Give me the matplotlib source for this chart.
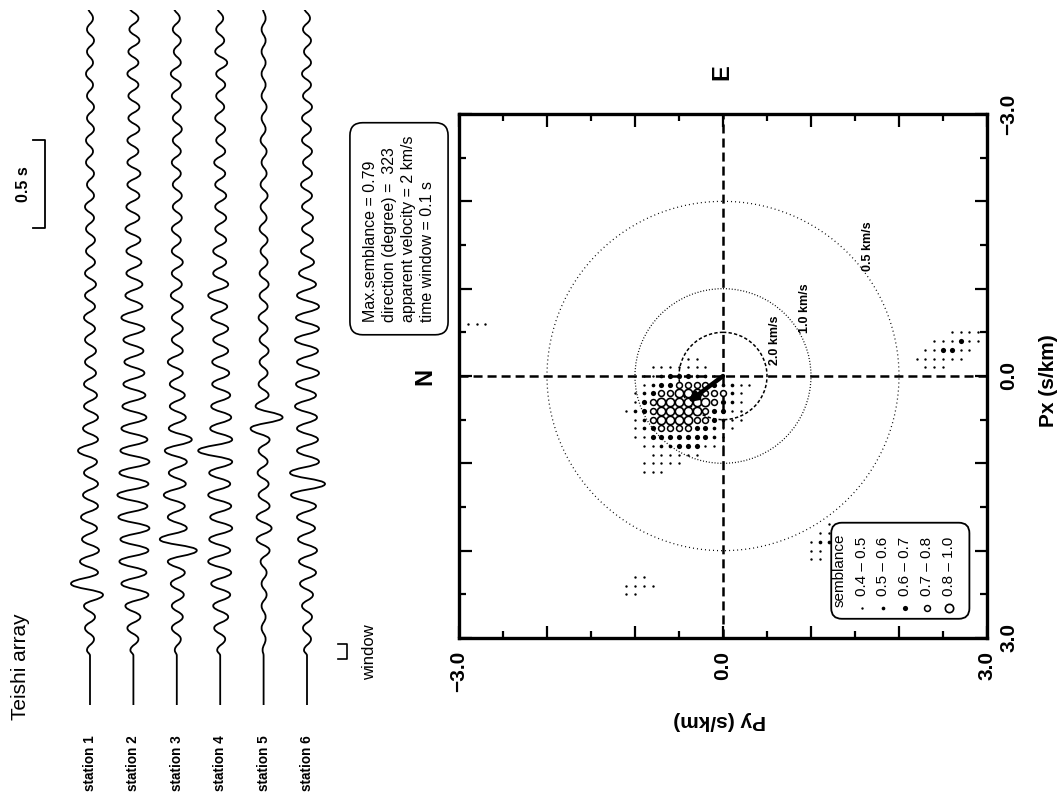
import numpy as np
import matplotlib.pyplot as plt
from matplotlib.patches import Circle, FancyBboxPatch, PathPatch
from matplotlib.path import Path
from matplotlib.ticker import MultipleLocator

plt.rcParams['font.family'] = ['Liberation Sans', 'DejaVu Sans']
plt.rcParams['lines.scale_dashes'] = False

# ---------------- waveform data ----------------
stations = ['station 1', 'station 2', 'station 3', 'station 4', 'station 5', 'station 6']
onset_time = 0.28      # s, end of the quiet part
peak_spacing = 0.063   # s between successive peaks/troughs
# successive peak / trough amplitudes after the onset (arbitrary counts)
amp_st1 = [-3, 4, -5, 5, -6, 13, -19, 8, -10, 9,
           -8, 7, -9, 8, -7, 8, -6, 7, -12, 8,
           -7, 8, -6, 7, -6, 6, -5, 6, -5, 5,
           -6, 5, -5, 6, -5, 5, -4, 5, -4, 4,
           -5, 4, -3, 4, -4, 3, -4, 4, -3, 4,
           -3, 3, -4, 3, -3, 4, -3, 3, -2]
amp_st2 = [-3, 5, -6, 7, -8, 15, -12, 13, -14, 15,
           -13, 16, -15, 14, -16, 15, -14, 16, -13, 14,
           -12, 13, -11, 12, -10, 11, -9, 10, -10, 11,
           -12, 9, -8, 9, -7, 8, -7, 7, -8, 6,
           -7, 6, -6, 7, -6, 5, -6, 6, -5, 6,
           -5, 5, -6, 5, -5, 6, -4, 5, -4]
amp_st3 = [-2, 4, -5, 6, -5, 7, -6, 8, -9, 20,
           -17, 10, -9, 8, -13, 9, -8, 10, -12, 15,
           -8, 9, -7, 8, -7, 6, -9, 6, -5, 6,
           -5, 6, -6, 5, -5, 6, -5, 4, -5, 5,
           -4, 5, -4, 4, -5, 4, -4, 5, -4, 4,
           -5, 4, -6, 4, -3, 4, -4, 3, -3]
amp_st4 = [-3, 5, -6, 8, -7, 10, -9, 11, -12, 10,
           -11, 12, -10, 11, -12, 10, -11, 12, -22, 12,
           -10, 11, -9, 10, -8, 9, -8, 8, -7, 8,
           -9, 7, -12, 8, -7, 6, -7, 6, -5, 6,
           -5, 6, -5, 5, -6, 5, -4, 5, -5, 4,
           -4, 5, -4, 7, -5, 4, -4, 3, -3]
amp_st5 = [-1, 2, -2, 2, -2, 3, -2, 3, -3, 6,
           -7, 8, -7, 6, -5, 5, -6, 4, -5, 6,
           -13, 19, -8, 5, -5, 4, -4, 5, -4, 4,
           -5, 4, -4, 5, -4, 4, -3, 4, -4, 3,
           -3, 4, -3, 3, -2, 3, -3, 2, -2, 3,
           -2, 2, -2, 2, -2, 2, -2, 2, -1]
amp_st6 = [-3, 4, -4, 5, -5, 6, -7, 9, -8, 10,
           -9, 8, -10, 9, -16, 18, -17, 12, -10, 11,
           -10, 10, -12, 9, -11, 12, -10, 11, -12, 12,
           -11, 12, -10, 9, -8, 7, -6, 6, -5, 6,
           -5, 5, -6, 5, -4, 5, -5, 4, -5, 5,
           -4, 4, -5, 4, -3, 4, -4, 3, -3]
traces = [amp_st1, amp_st2, amp_st3, amp_st4, amp_st5, amp_st6]
trace_gain = 43.4          # counts per trace spacing
scale_bar = (2.71, 0.5)    # start time, length (s)
window = (0.26, 0.345)     # time window bracket (s)

# ---------------- semblance data ----------------
py_grid = [-1.1, -1.0, -0.9, -0.8, -0.7, -0.6, -0.5, -0.4, -0.3, -0.2, -0.1, 0.0, 0.1, 0.2, 0.3]
px_grid = [-0.2, -0.1, 0.0, 0.1, 0.2, 0.3, 0.4, 0.5, 0.6, 0.7, 0.8, 0.9, 1.0, 1.1]
# semblance class per grid cell: 0 none, 1 0.4-0.5, 2 0.5-0.6, 3 0.6-0.7, 4 0.7-0.8, 5 0.8-1.0
sem_rows = ['000000011000000',
            '000111111100000',
            '001123332210000',
            '001233444432211',
            '012344555444210',
            '013455555543210',
            '123455555433110',
            '012455554432110',
            '012344443321100',
            '011333333321000',
            '001122333111000',
            '000111111000000',
            '001111100000000',
            '001110000000000']
# isolated side lobes: (Py, Px, class)
side_py = [-2.9, -2.8, -2.7,
           -1.0, -0.9, -1.1, -1.0, -0.9, -0.8, -1.1, -1.0,
           2.6, 2.7, 2.8, 2.9, 2.4, 2.5, 2.6, 2.7, 2.8, 2.9, 2.3, 2.4, 2.5, 2.6, 2.7, 2.8,
           2.2, 2.3, 2.4, 2.5, 2.6, 2.7, 2.3, 2.4, 2.5,
           1.0, 1.0, 1.0, 1.1, 1.1, 1.1, 1.1, 1.2, 1.2, 1.2]
side_px = [-0.6, -0.6, -0.6,
           2.3, 2.3, 2.4, 2.4, 2.4, 2.4, 2.5, 2.5,
           -0.5, -0.5, -0.5, -0.5, -0.4, -0.4, -0.4, -0.4, -0.4, -0.4, -0.3, -0.3, -0.3, -0.3, -0.3, -0.3,
           -0.2, -0.2, -0.2, -0.2, -0.2, -0.2, -0.1, -0.1, -0.1,
           1.9, 2.0, 2.1, 1.8, 1.9, 2.0, 2.1, 1.7, 1.8, 1.9]
side_cls = [1, 1, 1,
            1, 1, 1, 1, 1, 1, 1, 1,
            1, 1, 1, 1, 1, 1, 1, 3, 1, 1, 1, 1, 3, 3, 1, 1,
            1, 1, 1, 1, 1, 1, 1, 1, 1,
            1, 1, 1, 1, 2, 1, 1, 1, 1, 2]
class_labels = ['0.4 – 0.5', '0.5 – 0.6', '0.6 – 0.7', '0.7 – 0.8', '0.8 – 1.0']
max_semblance = 0.79
direction_deg = 323
app_velocity = 2.0   # km/s
time_window = 0.1    # s
circle_vel = [2.0, 1.0, 0.5]   # km/s

# ---------------- figure ----------------
fig = plt.figure(figsize=(10.64, 8.0), dpi=100)

axw = fig.add_axes([68.3 / 1064, 1 - 705 / 800, 260.4 / 1064, 695 / 800])
axw.set_xlim(0.5, 6.5)
axw.set_ylim(0, 3.95)
axw.axis('off')
for i, (name, amps) in enumerate(zip(stations, traces), start=1):
    a = np.array(amps) / trace_gain + i
    t = onset_time + peak_spacing * (np.arange(len(a)) + 0.5)
    px = np.concatenate([[i], a])
    pt = np.concatenate([[onset_time], t])
    # smooth wiggle between successive extrema (vertical tangent at each extremum)
    verts = [(i, 0.0), (i, onset_time)]
    codes = [Path.MOVETO, Path.LINETO]
    for k in range(len(px) - 1):
        h = pt[k + 1] - pt[k]
        verts += [(px[k], pt[k] + 0.45 * h), (px[k + 1], pt[k + 1] - 0.45 * h), (px[k + 1], pt[k + 1])]
        codes += [Path.CURVE4] * 3
    axw.add_patch(PathPatch(Path(verts, codes), fill=False, ec='k', lw=1.3, capstyle='round'))
    axw.text(i, -0.33, name, rotation=90, ha='center', va='center',
             fontsize=9.8, fontweight='bold')

t0, tl = scale_bar
axw.plot([-0.31, -0.04, -0.04, -0.31], [t0, t0, t0 + tl, t0 + tl],
         color='k', lw=1.3, clip_on=False)
axw.text(-0.53, t0 + tl / 2, '%.1f s' % tl, rotation=90, ha='center', va='center',
         fontsize=11.5, fontweight='bold')
axw.plot([6.71, 6.92, 6.92, 6.71], [window[0], window[0], window[1], window[1]],
         color='k', lw=1.2, clip_on=False)
axw.text(7.45, 0.30, 'window', rotation=90, ha='center', va='center', fontsize=12)
axw.text(-0.61, 0.22, 'Teishi array', rotation=90, ha='center', va='center', fontsize=15)

# semblance panel: Py horizontal, Px vertical (downwards)
ax = fig.add_axes([459 / 1064, 1 - 638 / 800, 528 / 1064, 524 / 800])
ax.set_xlim(-3, 3)
ax.set_ylim(3, -3)
for s in ax.spines.values():
    s.set_linewidth(2.4)
ax.xaxis.set_major_locator(MultipleLocator(1.0))
ax.xaxis.set_minor_locator(MultipleLocator(0.5))
ax.yaxis.set_major_locator(MultipleLocator(1.0))
ax.yaxis.set_minor_locator(MultipleLocator(0.5))
ax.tick_params(which='both', direction='in', top=True, bottom=True, left=True, right=True,
               labelleft=False, labelright=True, width=1.6)
ax.tick_params(which='major', length=9, pad=9)
ax.tick_params(which='minor', length=5)
tick_lab = ['−3.0', '', '', '0.0', '', '', '3.0']
ax.set_xticks([-3, -2, -1, 0, 1, 2, 3])
ax.set_xticklabels(tick_lab, rotation=90, fontsize=15, fontweight='bold')
ax.set_yticks([-3, -2, -1, 0, 1, 2, 3])
ax.set_yticklabels(tick_lab, rotation=90, fontsize=15, fontweight='bold', va='center')

ax.text(1.116, 0.492, 'Px (s/km)', rotation=90, transform=ax.transAxes,
        ha='center', va='center', fontsize=15, fontweight='bold')
ax.text(0.494, -0.157, 'Py (s/km)', rotation=180, transform=ax.transAxes,
        ha='center', va='center', fontsize=15, fontweight='bold')
ax.text(-3.39, 0.0, 'N', rotation=90, ha='center', va='center', fontsize=17,
        fontweight='bold', clip_on=False)
ax.text(-0.01, -3.48, 'E', rotation=90, ha='center', va='center', fontsize=17,
        fontweight='bold', clip_on=False)

ax.axhline(0, color='k', lw=1.8, dashes=(6.5, 3.6), zorder=2)
ax.axvline(0, color='k', lw=1.8, dashes=(6.5, 3.6), zorder=2)

circ_styles = [dict(lw=1.1, dashes=(2.4, 1.6)),
               dict(lw=0.9, dashes=(0.7, 1.4)),
               dict(lw=0.9, dashes=(0.7, 2.2))]
circ_label_pos = [(0.59, -0.41), (0.93, -0.78), (1.65, -1.49)]
for v, st, (lx, ly) in zip(circle_vel, circ_styles, circ_label_pos):
    c = Circle((0, 0), 1.0 / v, fill=False, ec='k', lw=st['lw'], zorder=2)
    c.set_linestyle((0, st['dashes']))
    ax.add_patch(c)
    ax.text(lx, ly, '%.1f km/s' % v, rotation=90, ha='center', va='center',
            fontsize=9, fontweight='bold')

cls_style = {1: dict(s=3.0, c='k', lw=0),
             2: dict(s=7.0, c='k', lw=0),
             3: dict(s=14.0, c='k', lw=0),
             4: dict(s=18.0, facecolors='white', edgecolors='k', linewidths=1.1),
             5: dict(s=36.0, facecolors='white', edgecolors='k', linewidths=1.2)}

pts_py, pts_px, pts_cls = [], [], []
for px, row in zip(px_grid, sem_rows):
    for py, ch in zip(py_grid, row):
        if ch != '0':
            pts_py.append(py)
            pts_px.append(px)
            pts_cls.append(int(ch))
pts_py += side_py
pts_px += side_px
pts_cls += side_cls
pts_py, pts_px, pts_cls = np.array(pts_py), np.array(pts_px), np.array(pts_cls)
for k, st in cls_style.items():
    m = pts_cls == k
    ax.scatter(pts_py[m], pts_px[m], marker='o', zorder=3, **st)

d = np.deg2rad(direction_deg)
end = (-np.cos(d) / app_velocity, -np.sin(d) / app_velocity)
ax.annotate('', xy=end, xytext=(0, 0),
            arrowprops=dict(arrowstyle='-|>', lw=3.2, color='k', mutation_scale=12,
                            shrinkA=0, shrinkB=0), zorder=4)

# legend box
ax.add_patch(FancyBboxPatch((1.23, 1.68), 1.57, 1.1, boxstyle='round,pad=0,rounding_size=0.12',
                            fc='white', ec='k', lw=1.3, zorder=5))
ax.text(1.33, 2.64, 'semblance', rotation=90, ha='center', va='bottom', fontsize=11, zorder=6)
leg_py = [1.58, 1.82, 2.07, 2.32, 2.57]
for k, (lp, lab) in enumerate(zip(leg_py, class_labels), start=1):
    ax.scatter([lp], [2.66], marker='o', zorder=6, **cls_style[k])
    ax.text(lp, 2.52, lab, rotation=90, ha='center', va='bottom', fontsize=11, zorder=6)

info = ('Max.semblance = %.2f\ndirection (degree) =  %d\napparent velocity = %g km/s\n'
        'time window = %.1f s' % (max_semblance, direction_deg, app_velocity, time_window))
fig.text(399 / 1064, 1 - 322 / 800, info, rotation=90, ha='center', va='bottom',
         multialignment='left', fontsize=11.5, linespacing=1.35,
         bbox=dict(boxstyle='round,pad=0.8', fc='white', ec='k', lw=1.2))

fig.savefig('out.png', dpi=100)
